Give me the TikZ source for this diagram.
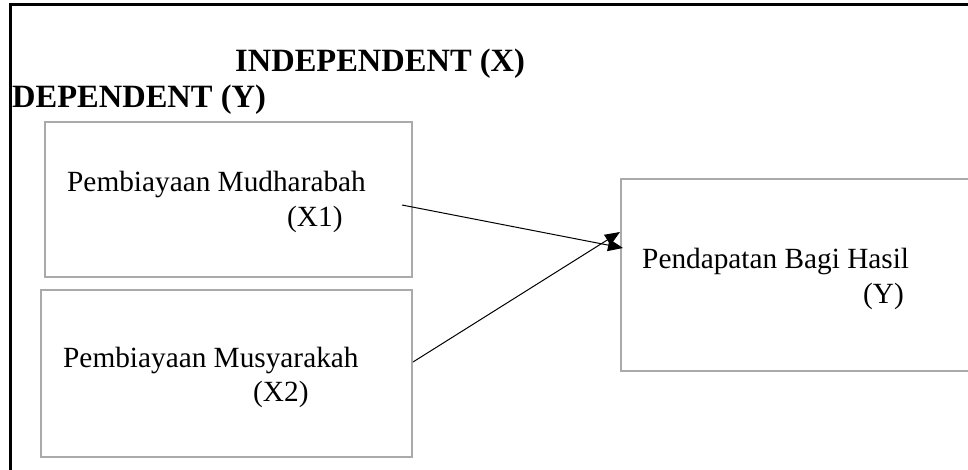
\documentclass[tikz,border=0pt]{standalone}
\usepackage{fontspec}
\setmainfont{Liberation Serif}
\usetikzlibrary{arrows.meta}
\definecolor{boxgray}{RGB}{170,170,170}
\tikzset{
  varbox/.style={draw=boxgray, line width=2.6pt, inner sep=0pt, outer sep=0pt, anchor=north west},
  lbl/.style={inner sep=0pt, anchor=base west, font=\fontsize{29.3}{35}\selectfont},
  head/.style={inner sep=0pt, anchor=base west, font=\fontsize{32.5}{39}\selectfont\bfseries},
  conn/.style={line width=1pt, -{Triangle[length=15pt,width=12pt]}}
}
\begin{document}
\begin{tikzpicture}[x=1pt,y=-1pt]
\useasboundingbox (0,0) rectangle (968,470);
% outer frame
\draw[line width=3pt] (10,480) -- (10,5) -- (980,5);
% boxes
\node[varbox, minimum width=367pt, minimum height=155pt] (b1) at (45,122) {};
\node[varbox, minimum width=371pt, minimum height=167pt] (b2) at (41,290) {};
\node[varbox, minimum width=380pt, minimum height=192pt] (b3) at (621,179) {};
% headings
\node[head] (hx) at (235,72) {INDEPENDENT (X)};
\node[head] (hy) at (12,108) {DEPENDENT (Y)};
% labels
\node[lbl] (t1) at (67,192) {Pembiayaan Mudharabah};
\node[lbl] (t1b) at (287,227) {(X1)};
\node[lbl] (t2) at (63,367) {Pembiayaan Musyarakah};
\node[lbl] (t2b) at (253,401) {(X2)};
\node[lbl] (t3) at (642,268) {Pendapatan Bagi Hasil};
\node[lbl] (t3b) at (863,303) {(Y)};
% connector ends
\coordinate (s1) at (402,205);
\coordinate (e1) at (623,248);
\coordinate (s2) at (413,362);
\coordinate (e2) at (620,232);
\draw[conn] (s1) -- (e1);
\draw[conn] (s2) -- (e2);
\end{tikzpicture}
\end{document}
